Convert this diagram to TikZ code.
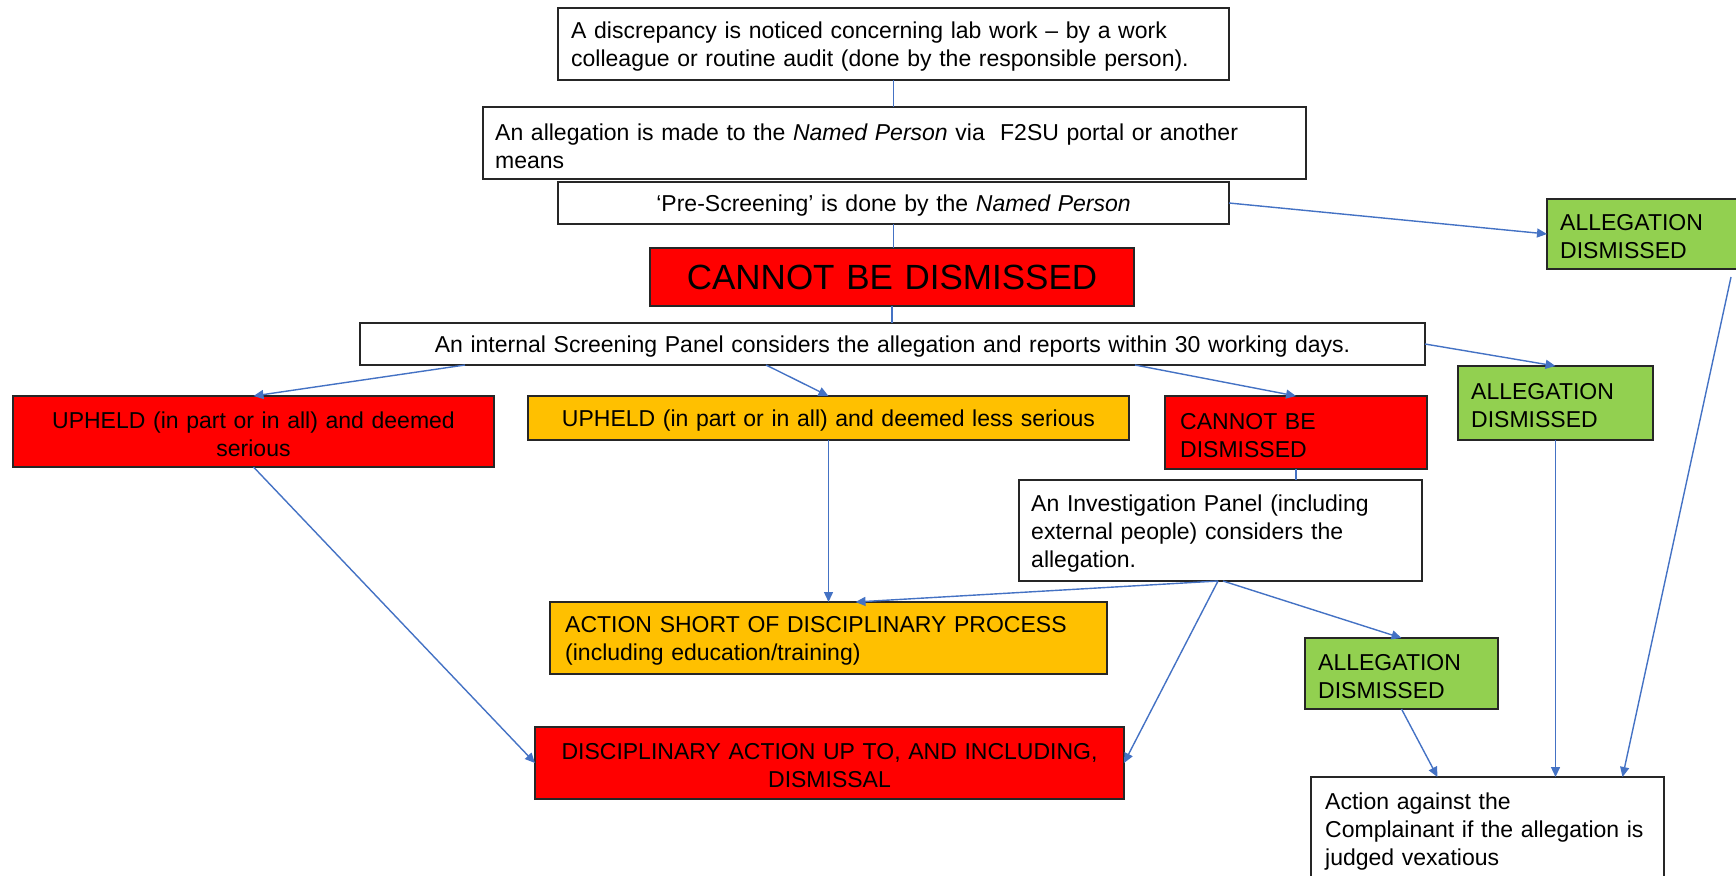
\documentclass[tikz,border=0pt]{standalone}
\usepackage{fontspec}
\setmainfont{Liberation Sans}
\usetikzlibrary{arrows.meta,calc}
\definecolor{cred}{HTML}{FF0000}
\definecolor{corange}{HTML}{FFC000}
\definecolor{cgreen}{HTML}{92D050}
\definecolor{cline}{HTML}{4472C4}
\begin{document}
\begin{tikzpicture}[x=1pt,y=-1pt,
  box/.style={draw=black!85, line width=1.3pt, inner sep=0pt, outer sep=0pt},
  txt/.style={inner xsep=13pt, inner ysep=0pt, font=\fontsize{23}{28}\selectfont},
  conn/.style={draw=cline, line width=1.4pt},
  arr/.style={conn, -{Triangle[length=10pt,width=9pt]}}]
\useasboundingbox (0,0) rectangle (1736,875);
\clip (0,0) rectangle (1736,875);

% boxes
\node[box, fill=white,   minimum width=671pt,  minimum height=72pt]  (A) at (893.5,44) {};
\node[box, fill=white,   minimum width=823pt,  minimum height=72pt]  (B) at (894.5,143) {};
\node[box, fill=white,   minimum width=671pt,  minimum height=42pt]  (C) at (893.5,203) {};
\node[box, fill=cred,    minimum width=484pt,  minimum height=58pt]  (D) at (892,277) {};
\node[box, fill=white,   minimum width=1065pt, minimum height=42pt]  (E) at (892.5,344) {};
\node[box, fill=cred,    minimum width=481pt,  minimum height=71pt]  (F) at (253.5,431.5) {};
\node[box, fill=corange, minimum width=601pt,  minimum height=44pt]  (G) at (828.5,418) {};
\node[box, fill=cred,    minimum width=262pt,  minimum height=73pt]  (H) at (1296,432.5) {};
\node[box, fill=cgreen,  minimum width=203pt,  minimum height=70pt]  (I) at (1648.5,234) {};
\node[box, fill=cgreen,  minimum width=195pt,  minimum height=74pt]  (J) at (1555.5,403) {};
\node[box, fill=white,   minimum width=403pt,  minimum height=101pt] (K) at (1220.5,530.5) {};
\node[box, fill=corange, minimum width=557pt,  minimum height=72pt]  (L) at (828.5,638) {};
\node[box, fill=cgreen,  minimum width=193pt,  minimum height=71pt]  (M) at (1401.5,673.5) {};
\node[box, fill=cred,    minimum width=589pt,  minimum height=72pt]  (N) at (829.5,763) {};
\node[box, fill=white,   minimum width=353pt,  minimum height=103pt] (O) at (1487.5,828.5) {};

% texts
\node[txt, anchor=west, text width=655pt, align=left] (tA) at ([yshift=-3pt]A.west)
  {A discrepancy is noticed concerning lab work – by a work\\colleague or routine audit (done by the responsible person).};
\node[txt, anchor=west, inner xsep=12pt, text width=805pt, align=left] (tB) at ([yshift=-3pt]B.west)
  {An allegation is made to the \textit{Named Person} via\ \ F2SU portal or another\\means};
\node[txt, text width=651pt, align=center] (tC) at ([yshift=-3pt]C.center)
  {‘Pre-Screening’ is done by the \textit{Named Person}};
\node[txt, text width=464pt, align=center, font=\fontsize{35}{42}\selectfont] (tD) at (D.center)
  {CANNOT BE DISMISSED};
\node[txt, text width=1045pt, align=center] (tE) at ([yshift=-3pt]E.center)
  {An internal Screening Panel considers the allegation and reports within 30 working days.};
\node[txt, text width=461pt, align=center] (tF) at ([yshift=-3pt]F.center)
  {UPHELD (in part or in all) and deemed\\serious};
\node[txt, text width=581pt, align=center] (tG) at ([yshift=-3pt]G.center)
  {UPHELD (in part or in all) and deemed less serious};
\node[txt, anchor=west, inner xsep=15pt, text width=240pt, align=left] (tH) at ([yshift=-3pt]H.west)
  {CANNOT BE\\DISMISSED};
\node[txt, anchor=west, text width=185pt, align=left] (tI) at ([yshift=-3pt]I.west)
  {ALLEGATION\\DISMISSED};
\node[txt, anchor=west, text width=175pt, align=left] (tJ) at ([yshift=-3pt]J.west)
  {ALLEGATION\\DISMISSED};
\node[txt, anchor=west, inner xsep=12pt, text width=385pt, align=left] (tK) at ([yshift=-3pt]K.west)
  {An Investigation Panel (including\\external people) considers the\\allegation.};
\node[txt, anchor=west, inner xsep=15pt, text width=535pt, align=left] (tL) at ([yshift=-3pt]L.west)
  {ACTION SHORT OF DISCIPLINARY PROCESS\\(including education/training)};
\node[txt, anchor=west, text width=175pt, align=left] (tM) at ([yshift=-3pt]M.west)
  {ALLEGATION\\DISMISSED};
\node[txt, text width=569pt, align=center] (tN) at ([yshift=-3pt]N.center)
  {DISCIPLINARY ACTION UP TO, AND INCLUDING,\\DISMISSAL};
\node[txt, anchor=west, inner xsep=14pt, text width=335pt, align=left] (tO) at ([yshift=-3pt]O.west)
  {Action against the\\Complainant if the allegation is\\judged vexatious};

% plain connectors
\draw[conn] (A.south) -- (A.south |- B.north);
\draw[conn] (C.south) -- (C.south |- D.north);
\draw[conn] (D.south) -- (D.south |- E.north);
\draw[conn] (H.south) -- (H.south |- K.north);

% coordinates on edges
\coordinate (e1) at ([xshift=105pt]E.south west);
\coordinate (e2) at ([xshift=406pt]E.south west);
\coordinate (e3) at ([xshift=775pt]E.south west);
\coordinate (k1) at ([xshift=199pt]K.south west);
\coordinate (k2) at ([xshift=204pt]K.south west);
\coordinate (i1) at ([xshift=-19pt,yshift=-8pt]I.south east);

% arrows
\draw[arr] (C.east) -- (I.west);
\draw[arr] (e1) -- (F.north);
\draw[arr] (e2) -- (G.north);
\draw[arr] (e3) -- (H.north);
\draw[arr] (E.east) -- (J.north);
\draw[arr] (G.south) -- (G.south |- L.north);
\draw[arr] (k1) -- ([xshift=27pt]L.north);
\draw[arr] (k1) -- (N.east);
\draw[arr] (k2) -- (M.north);
\draw[arr] (F.south) -- (N.west);
\draw[arr] (M.south) -- ([xshift=-50pt]O.north);
\draw[arr] (J.south) -- (J.south |- O.north);
\draw[arr] (i1) -- ([xshift=135pt]O.north);
\end{tikzpicture}
\end{document}
